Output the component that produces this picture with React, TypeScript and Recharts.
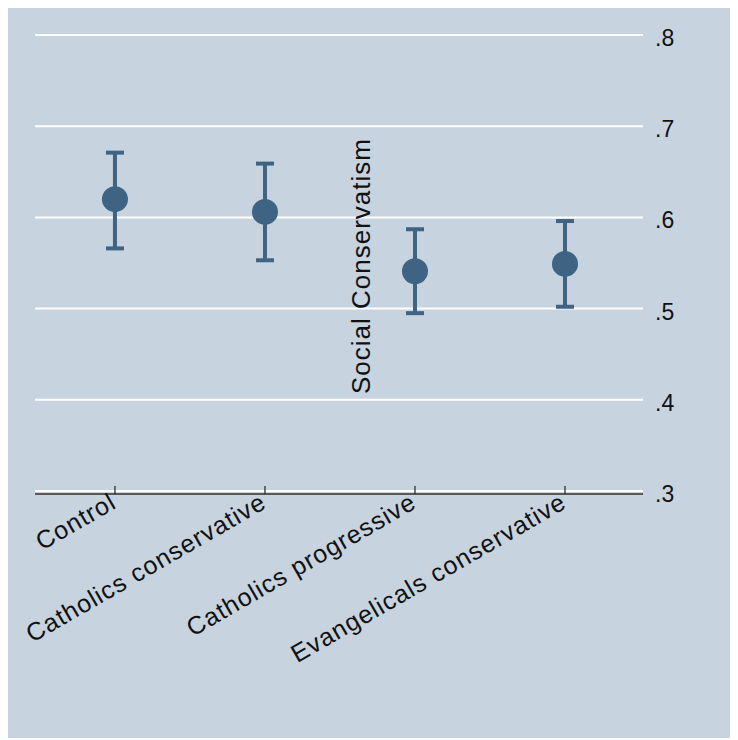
import React from 'react';
import { ScatterChart, Scatter, XAxis, YAxis, CartesianGrid, ErrorBar } from 'recharts';

const categories = ['Control', 'Catholics conservative', 'Catholics progressive', 'Evangelicals conservative'];
const positions = [1, 2, 3, 4];
const means = [0.620, 0.606, 0.541, 0.549];
const lowerCI = [0.566, 0.553, 0.495, 0.502];
const upperCI = [0.671, 0.659, 0.587, 0.596];
const yTicks = [0.3, 0.4, 0.5, 0.6, 0.7, 0.8];
const yTickLabels = ['.3', '.4', '.5', '.6', '.7', '.8'];

const data = positions.map((x, i) => ({
  x,
  y: means[i],
  err: [means[i] - lowerCI[i], upperCI[i] - means[i]],
}));

const FONT = '"Liberation Sans", Arial, sans-serif';
const MARKER = '#3f6382';
const BG = '#c7d3df';

function XTick(props: any) {
  const { x, y, payload } = props;
  const label = categories[positions.indexOf(payload.value)];
  const tx = x + 3;
  const ty = y + 13;
  return (
    <g>
      <line x1={x} x2={x} y1={y - 8} y2={y} stroke="#222" strokeWidth={1.2} />
      <text x={tx} y={ty} textAnchor="end" fill="#111" fontSize={25} letterSpacing={1} fontFamily={FONT}
        transform={`rotate(-30 ${tx} ${ty})`}>{label}</text>
    </g>
  );
}

function YTick(props: any) {
  const { x, y, payload } = props;
  const i = yTicks.indexOf(payload.value);
  return (
    <text x={x} y={y} dy={11} textAnchor="start" fill="#111" fontSize={23} fontFamily={FONT}>
      {yTickLabels[i]}
    </text>
  );
}

export default function App() {
  return (
    <div style={{ position: 'relative', top: -5, width: 730, height: 735, background: BG }}>
      <ScatterChart width={730} height={735} margin={{ top: 32, right: 35, left: 27, bottom: 44 }}>
        <CartesianGrid vertical={false} stroke="#ffffff" strokeWidth={2} />
        <XAxis type="number" dataKey="x" domain={[0.467, 4.52]} ticks={positions} interval={0}
          allowDataOverflow height={200} tickSize={0} tickMargin={0} tickLine={false}
          axisLine={{ stroke: '#222', strokeWidth: 1.5 }} tick={<XTick />} />
        <YAxis type="number" dataKey="y" orientation="right" domain={[0.2967, 0.8]} ticks={yTicks}
          allowDataOverflow width={60} axisLine={false} tickLine={false} tickSize={0} tickMargin={12}
          tick={<YTick />} />
        <Scatter data={data} isAnimationActive={false} fill={MARKER}
          shape={(p: any) => <circle cx={p.cx} cy={p.cy} r={13} fill={MARKER} />}>
          <ErrorBar dataKey="err" direction="y" width={9} stroke={MARKER} strokeWidth={4} isAnimationActive={false} />
        </Scatter>
        <text x={362} y={263} textAnchor="middle" fill="#111" fontSize={26} letterSpacing={1} fontFamily={FONT}
          transform="rotate(-90 362 263)">Social Conservatism</text>
      </ScatterChart>
    </div>
  );
}
